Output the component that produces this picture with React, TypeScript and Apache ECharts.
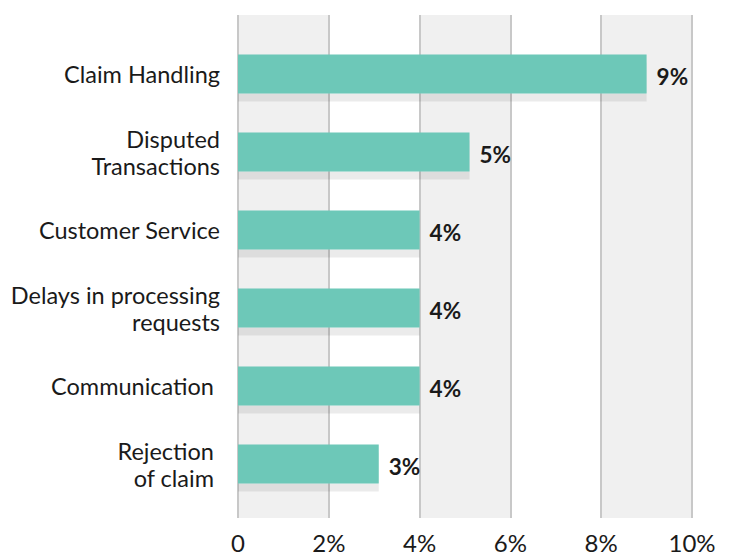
import React, { useEffect, useRef } from "react";
import * as echarts from "echarts";

const categories: string[] = [
  "Claim Handling",
  "Disputed\nTransactions",
  "Customer Service",
  "Delays in processing\nrequests",
  "Communication ",
  "Rejection \nof claim ",
];
const values: number[] = [9.0, 5.1, 4.0, 4.0, 4.0, 3.1];
const labelTexts: string[] = ["9%", "5%", "4%", "4%", "4%", "3%"];
const xTicks = { min: 0, max: 10, interval: 2 };

export default function App() {
  const ref = useRef<HTMLDivElement>(null);
  useEffect(() => {
    if (!ref.current) return;
    const chart = echarts.init(ref.current, undefined, { renderer: "svg" });
    const font = "Lato, 'Noto Sans', sans-serif";
    chart.setOption({
      animation: false,
      backgroundColor: "#ffffff",
      grid: [
        { left: 238, width: 454, top: 15, height: 508, containLabel: false },
        { left: 238, width: 454, top: 35, height: 468, containLabel: false },
      ],
      xAxis: [
        {
          gridIndex: 0,
          type: "value",
          min: xTicks.min,
          max: xTicks.max,
          interval: xTicks.interval,
          axisLine: { show: false },
          axisTick: { show: false },
          axisLabel: {
            fontFamily: font,
            fontSize: 24,
            color: "#1a1a1a",
            margin: 12,
            formatter: (v: number) => (v === 0 ? "0" : v + "%"),
          },
          splitLine: { show: true, lineStyle: { color: "#c8c8c8", width: 2 } },
          splitArea: { show: true, areaStyle: { color: ["#f0f0f0", "#ffffff"] } },
        },
        {
          gridIndex: 1,
          type: "value",
          min: xTicks.min,
          max: xTicks.max,
          interval: xTicks.interval,
          show: false,
        },
      ],
      yAxis: [
        { gridIndex: 0, type: "value", show: false },
        {
          gridIndex: 1,
          type: "category",
          data: categories,
          inverse: true,
          axisLine: { show: false },
          axisTick: { show: false },
          splitLine: { show: false },
          axisLabel: {
            fontFamily: font,
            fontSize: 23.5,
            lineHeight: 27,
            color: "#1a1a1a",
            margin: 18,
            align: "right",
          },
        },
      ],
      series: [
        {
          type: "bar",
          xAxisIndex: 1,
          yAxisIndex: 1,
          data: values,
          barWidth: "50%",
          itemStyle: {
            color: "#6dc8b8",
            shadowColor: "rgba(0,0,0,0.08)",
            shadowBlur: 0,
            shadowOffsetY: 8,
            shadowOffsetX: 0,
          },
          label: {
            show: true,
            position: "right",
            distance: 10,
            fontFamily: font,
            fontSize: 22.5,
            fontWeight: "bold",
            color: "#1a1a1a",
            offset: [0, 2],
            formatter: (p: any) => labelTexts[p.dataIndex],
          },
        },
      ],
    });
    return () => chart.dispose();
  }, []);
  return (
    <div
      ref={ref}
      style={{ position: "fixed", left: 0, top: 0, width: 736, height: 554 }}
    />
  );
}
